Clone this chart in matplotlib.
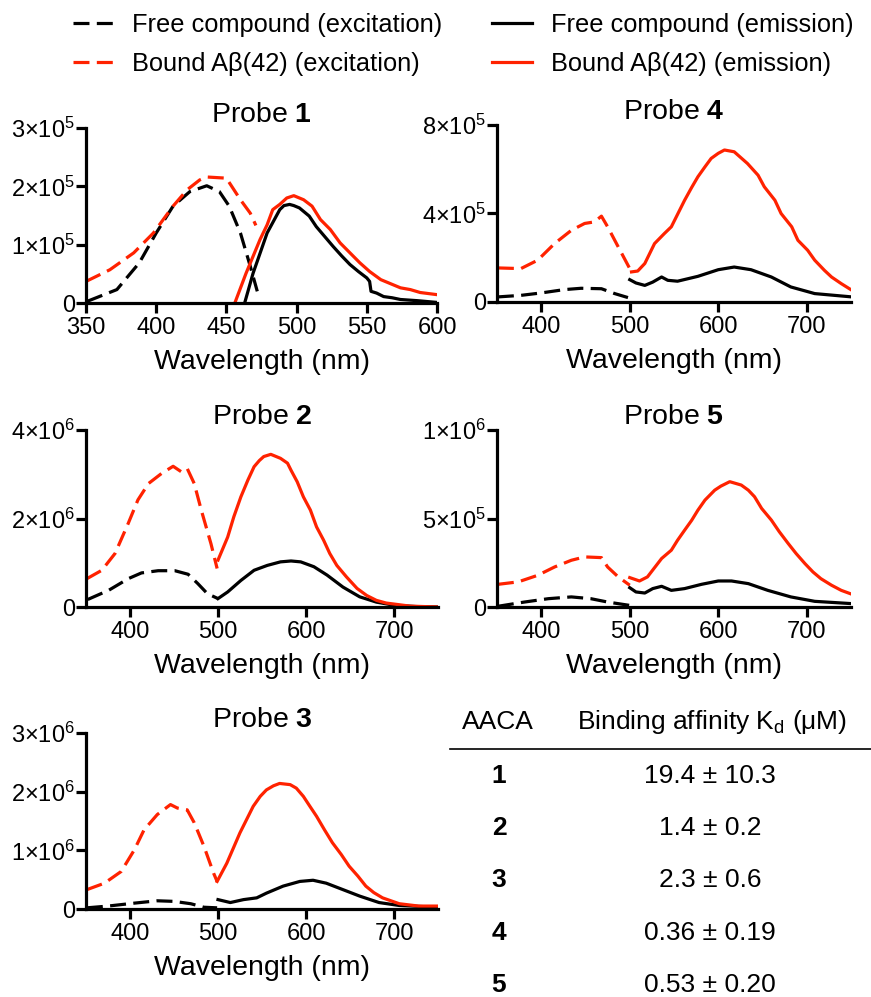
import matplotlib
matplotlib.use("Agg")
import matplotlib.pyplot as plt
from matplotlib.lines import Line2D

plt.rcParams['font.family'] = ['Liberation Sans', 'DejaVu Sans']
plt.rcParams['mathtext.fontset'] = 'custom'
plt.rcParams['mathtext.rm'] = 'Liberation Sans'
plt.rcParams['mathtext.bf'] = 'Liberation Sans:bold'
plt.rcParams['mathtext.it'] = 'Liberation Sans:italic'

# ---- data (wavelength in nm, intensity in a.u.) ----
# Probe 1
p1_free_ex_wl = [351, 372, 388, 400, 412, 424, 436, 445, 452, 460, 467, 472]
p1_free_ex = [3e3, 23e3, 69e3, 120e3, 166e3, 191e3, 201e3, 191e3, 166e3, 120e3, 63e3, 20e3]
p1_bound_ex_wl = [350, 367, 384, 398, 412, 422, 431, 436, 443, 450, 460, 467, 471]
p1_bound_ex = [37e3, 57e3, 86e3, 120e3, 166e3, 194e3, 211e3, 216e3, 215e3, 214e3, 177e3, 154e3, 133e3]
p1_free_em_wl = [463, 469, 479, 488, 491, 495, 498, 502, 509, 514, 520, 526, 532, 538, 544,
                 550, 552, 553, 557, 562, 568, 574, 586, 600]
p1_free_em = [0, 51e3, 120e3, 160e3, 167e3, 169e3, 167e3, 163e3, 149e3, 131e3, 114e3, 97e3, 81e3,
              66e3, 54e3, 43e3, 37e3, 20e3, 17e3, 11e3, 9e3, 6e3, 4e3, 1e3]
p1_bound_em_wl = [456, 464, 474, 479, 483, 488, 493, 498, 505, 511, 517, 524, 531, 538, 545,
                  552, 560, 567, 574, 581, 588, 601]
p1_bound_em = [0, 51e3, 109e3, 134e3, 160e3, 169e3, 180e3, 184e3, 177e3, 166e3, 143e3, 126e3,
               103e3, 86e3, 69e3, 54e3, 40e3, 33e3, 26e3, 23e3, 18e3, 14e3]

# Probe 2
p2_free_ex_wl = [352, 376, 398, 413, 432, 451, 466, 477, 488, 500]
p2_free_ex = [0.17e6, 0.38e6, 0.64e6, 0.77e6, 0.82e6, 0.82e6, 0.74e6, 0.53e6, 0.30e6, 0.19e6]
p2_bound_ex_wl = [351, 368, 383, 398, 409, 421, 436, 449, 458, 465, 473, 481, 492, 499]
p2_bound_ex = [0.64e6, 0.83e6, 1.21e6, 1.89e6, 2.42e6, 2.79e6, 3.02e6, 3.18e6, 3.06e6, 3.13e6,
               2.79e6, 2.19e6, 1.43e6, 0.87e6]
p2_free_em_wl = [500, 511, 526, 541, 556, 571, 583, 594, 609, 624, 642, 661, 680, 700, 725, 750]
p2_free_em = [0.19e6, 0.34e6, 0.60e6, 0.83e6, 0.94e6, 1.02e6, 1.04e6, 1.02e6, 0.91e6, 0.72e6,
              0.45e6, 0.23e6, 0.11e6, 0.04e6, 0.01e6, 0]
p2_bound_em_wl = [500, 511, 518, 526, 534, 541, 547, 552, 560, 571, 579, 583, 590, 597, 605, 612,
                  620, 627, 635, 646, 658, 669, 680, 691, 718, 750]
p2_bound_em = [1.06e6, 1.58e6, 2.04e6, 2.49e6, 2.87e6, 3.17e6, 3.31e6, 3.40e6, 3.45e6, 3.36e6,
               3.25e6, 3.09e6, 2.83e6, 2.49e6, 2.19e6, 1.81e6, 1.51e6, 1.21e6, 0.94e6, 0.68e6,
               0.42e6, 0.26e6, 0.15e6, 0.09e6, 0.02e6, 0]

# Probe 3
p3_free_ex_wl = [351, 375, 405, 431, 450, 469, 484, 499]
p3_free_ex = [0.02e6, 0.05e6, 0.10e6, 0.14e6, 0.13e6, 0.09e6, 0.03e6, 0.02e6]
p3_bound_ex_wl = [351, 371, 390, 405, 416, 431, 446, 454, 465, 473, 484, 495, 499]
p3_bound_ex = [0.33e6, 0.44e6, 0.64e6, 1.01e6, 1.35e6, 1.61e6, 1.78e6, 1.72e6, 1.69e6, 1.47e6,
               1.07e6, 0.61e6, 0.47e6]
p3_free_em_wl = [500, 514, 529, 544, 555, 574, 593, 608, 623, 642, 661, 683, 706, 749]
p3_free_em = [0.16e6, 0.11e6, 0.16e6, 0.19e6, 0.27e6, 0.39e6, 0.47e6, 0.49e6, 0.44e6, 0.33e6,
              0.22e6, 0.11e6, 0.06e6, 0.03e6]
p3_bound_em_wl = [499, 510, 525, 540, 548, 555, 563, 570, 582, 589, 597, 604, 612, 621, 630, 640,
                  649, 659, 668, 677, 687, 706, 728, 749]
p3_bound_em = [0.47e6, 0.78e6, 1.30e6, 1.75e6, 1.92e6, 2.03e6, 2.10e6, 2.14e6, 2.12e6, 2.06e6,
               1.92e6, 1.76e6, 1.58e6, 1.35e6, 1.13e6, 0.93e6, 0.73e6, 0.56e6, 0.39e6, 0.28e6,
               0.19e6, 0.09e6, 0.05e6, 0.05e6]

# Probe 4
p4_free_ex_wl = [351, 377, 400, 426, 445, 468, 483, 498]
p4_free_ex = [23e3, 30e3, 41e3, 56e3, 62e3, 60e3, 38e3, 20e3]
p4_bound_ex_wl = [351, 377, 396, 415, 434, 449, 460, 468, 475, 487, 500]
p4_bound_ex = [154e3, 151e3, 189e3, 264e3, 324e3, 355e3, 362e3, 388e3, 340e3, 249e3, 151e3]
p4_free_em_wl = [500, 507, 517, 526, 536, 543, 554, 577, 600, 618, 637, 660, 682, 709, 751]
p4_free_em = [101e3, 86e3, 75e3, 90e3, 113e3, 98e3, 94e3, 116e3, 146e3, 158e3, 146e3, 113e3,
              68e3, 38e3, 23e3]
p4_bound_em_wl = [502, 509, 517, 528, 539, 547, 562, 570, 577, 585, 592, 600, 607, 618, 633, 645,
                  652, 664, 671, 683, 690, 701, 709, 720, 728, 739, 751]
p4_bound_em = [136e3, 140e3, 174e3, 264e3, 309e3, 340e3, 460e3, 518e3, 566e3, 611e3, 649e3,
               672e3, 687e3, 679e3, 626e3, 573e3, 521e3, 460e3, 400e3, 340e3, 279e3, 234e3,
               189e3, 143e3, 113e3, 83e3, 53e3]

# Probe 5
p5_free_ex_wl = [351, 381, 408, 434, 456, 475, 500]
p5_free_ex = [4e3, 28e3, 47e3, 57e3, 47e3, 28e3, 9e3]
p5_bound_ex_wl = [351, 374, 396, 415, 434, 449, 468, 475, 487, 500]
p5_bound_ex = [128e3, 142e3, 179e3, 226e3, 264e3, 283e3, 279e3, 226e3, 170e3, 123e3]
p5_free_em_wl = [500, 507, 517, 526, 536, 547, 562, 581, 600, 615, 634, 656, 682, 709, 751]
p5_free_em = [109e3, 85e3, 79e3, 104e3, 117e3, 94e3, 104e3, 128e3, 147e3, 147e3, 132e3, 94e3,
              57e3, 32e3, 19e3]
p5_bound_em_wl = [500, 511, 520, 536, 547, 554, 562, 570, 577, 585, 596, 603, 613, 626, 634, 641,
                  649, 660, 669, 679, 688, 698, 707, 716, 728, 739, 751]
p5_bound_em = [166e3, 147e3, 170e3, 274e3, 321e3, 377e3, 434e3, 490e3, 547e3, 604e3, 660e3,
               683e3, 708e3, 689e3, 660e3, 623e3, 557e3, 491e3, 425e3, 359e3, 302e3, 245e3,
               198e3, 160e3, 123e3, 94e3, 72e3]

# axis ticks and labels
p1_xticks = [350, 400, 450, 500, 550, 600]
wide_xticks = [400, 500, 600, 700]
p1_yticks = [0, 1e5, 2e5, 3e5]
p1_ylabels = ['0', r'$\mathregular{1×10^{5}}$', r'$\mathregular{2×10^{5}}$', r'$\mathregular{3×10^{5}}$']
p2_yticks = [0, 2e6, 4e6]
p2_ylabels = ['0', r'$\mathregular{2×10^{6}}$', r'$\mathregular{4×10^{6}}$']
p3_yticks = [0, 1e6, 2e6, 3e6]
p3_ylabels = ['0', r'$\mathregular{1×10^{6}}$', r'$\mathregular{2×10^{6}}$', r'$\mathregular{3×10^{6}}$']
p4_yticks = [0, 4e5, 8e5]
p4_ylabels = ['0', r'$\mathregular{4×10^{5}}$', r'$\mathregular{8×10^{5}}$']
p5_yticks = [0, 5e5, 1e6]
p5_ylabels = ['0', r'$\mathregular{5×10^{5}}$', r'$\mathregular{1×10^{6}}$']

# table
aaca = ['1', '2', '3', '4', '5']
kd_values = ['19.4 ± 10.3', '1.4 ± 0.2', '2.3 ± 0.6', '0.36 ± 0.19', '0.53 ± 0.20']

legend_labels = ['Free compound (excitation)', 'Bound Aβ(42) (excitation)',
                 'Free compound (emission)', 'Bound Aβ(42) (emission)']

RED = '#ff2200'
LW = 2.3
DASH = (0, (5, 2.3))

W, H = 871, 997
fig = plt.figure(figsize=(8.71, 9.97), dpi=100)


def make_axes(left, top, right, bottom):
    # pixel box -> figure fraction
    return fig.add_axes([left / W, 1 - bottom / H, (right - left) / W, (bottom - top) / H])


def draw_panel(ax, num, fe_wl, fe, be_wl, be, fm_wl, fm, bm_wl, bm,
               xlim, xticks, ylim, yticks, ylabels):
    ax.plot(fe_wl, fe, color='k', lw=LW, ls=DASH)
    ax.plot(be_wl, be, color=RED, lw=LW, ls=DASH)
    ax.plot(fm_wl, fm, color='k', lw=LW)
    ax.plot(bm_wl, bm, color=RED, lw=LW)
    ax.set_xlim(xlim)
    ax.set_ylim(ylim)
    ax.set_xticks(xticks)
    ax.set_yticks(yticks)
    ax.set_yticklabels(ylabels)
    for side in ['top', 'right']:
        ax.spines[side].set_visible(False)
    for side in ['left', 'bottom']:
        ax.spines[side].set_linewidth(LW)
    ax.tick_params(width=LW, length=7, labelsize=17, direction='out')
    ax.tick_params(axis='x', pad=3)
    ax.tick_params(axis='y', pad=1)
    ax.set_xlabel('Wavelength (nm)', fontsize=20.5, labelpad=7)
    ax.set_title(r'Probe $\mathbf{%s}$' % num, fontsize=20.5, pad=0)


ax1 = make_axes(86, 128, 437, 303)
draw_panel(ax1, '1', p1_free_ex_wl, p1_free_ex, p1_bound_ex_wl, p1_bound_ex,
           p1_free_em_wl, p1_free_em, p1_bound_em_wl, p1_bound_em,
           (350, 600), p1_xticks, (0, 3e5), p1_yticks, p1_ylabels)

ax4 = make_axes(497, 125, 851, 302)
draw_panel(ax4, '4', p4_free_ex_wl, p4_free_ex, p4_bound_ex_wl, p4_bound_ex,
           p4_free_em_wl, p4_free_em, p4_bound_em_wl, p4_bound_em,
           (350, 750), wide_xticks, (0, 8e5), p4_yticks, p4_ylabels)

ax2 = make_axes(86, 430, 438, 607)
draw_panel(ax2, '2', p2_free_ex_wl, p2_free_ex, p2_bound_ex_wl, p2_bound_ex,
           p2_free_em_wl, p2_free_em, p2_bound_em_wl, p2_bound_em,
           (350, 750), wide_xticks, (0, 4e6), p2_yticks, p2_ylabels)

ax5 = make_axes(497, 430, 851, 607)
draw_panel(ax5, '5', p5_free_ex_wl, p5_free_ex, p5_bound_ex_wl, p5_bound_ex,
           p5_free_em_wl, p5_free_em, p5_bound_em_wl, p5_bound_em,
           (350, 750), wide_xticks, (0, 1e6), p5_yticks, p5_ylabels)

ax3 = make_axes(86, 733, 438, 909)
draw_panel(ax3, '3', p3_free_ex_wl, p3_free_ex, p3_bound_ex_wl, p3_bound_ex,
           p3_free_em_wl, p3_free_em, p3_bound_em_wl, p3_bound_em,
           (350, 750), wide_xticks, (0, 3e6), p3_yticks, p3_ylabels)

# legend across the top
handles = [Line2D([], [], color='k', lw=LW, ls=DASH),
           Line2D([], [], color=RED, lw=LW, ls=DASH),
           Line2D([], [], color='k', lw=LW),
           Line2D([], [], color=RED, lw=LW)]
fig.legend(handles, legend_labels, ncol=2, loc='upper left',
           bbox_to_anchor=(73 / W, 1 - 13 / H), frameon=False, fontsize=18.3,
           handlelength=1.6, handletextpad=0.72, columnspacing=1.95,
           labelspacing=0.6, borderpad=0, borderaxespad=0)

# binding affinity table
fig.text(498 / W, 1 - 722 / H, 'AACA', ha='center', va='center', fontsize=19)
fig.text(712 / W, 1 - 722 / H, r'Binding affinity K$_{\mathregular{d}}$ (μM)',
         ha='center', va='center', fontsize=19)
fig.add_artist(Line2D([450 / W, 1.0], [1 - 749 / H, 1 - 749 / H],
                      color='k', lw=1.2, transform=fig.transFigure))
row_y = [776, 828, 880, 933, 985]
for lab, val, y in zip(aaca, kd_values, row_y):
    fig.text(499 / W, 1 - y / H, lab, ha='center', va='center', fontsize=19, fontweight='bold')
    fig.text(710 / W, 1 - y / H, val, ha='center', va='center', fontsize=19)

fig.savefig('out.png', dpi=100)
